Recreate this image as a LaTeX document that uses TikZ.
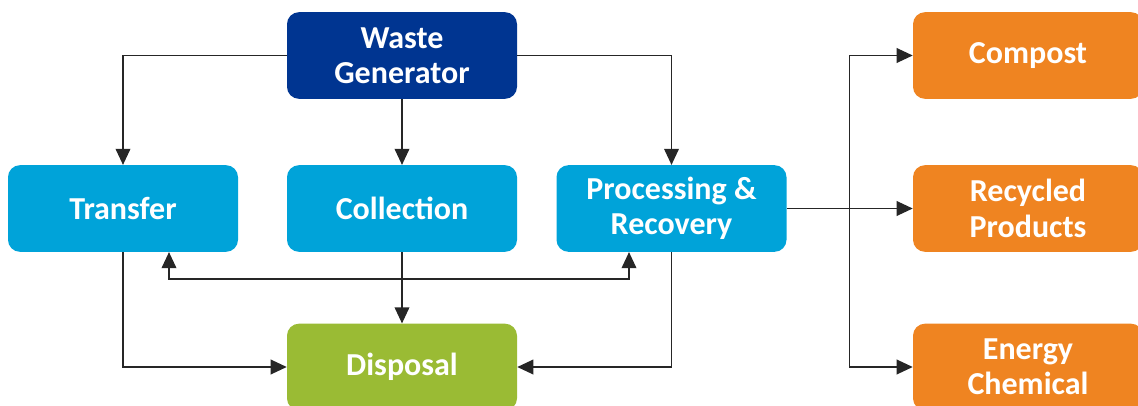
\documentclass[tikz,border=0pt]{standalone}
\usepackage{fontspec}
\setmainfont{Carlito}
\usetikzlibrary{arrows.meta, calc}

\definecolor{genblue}{HTML}{003591}
\definecolor{stepblue}{HTML}{00A3D9}
\definecolor{dispgreen}{HTML}{9ABB34}
\definecolor{prodorange}{HTML}{EF8421}

\begin{document}
\begin{tikzpicture}[x=0.75pt, y=-0.75pt, >={Triangle[length=12pt,width=11pt]},
  box/.style={rounded corners=9pt, minimum width=172.5pt, minimum height=65pt,
    inner sep=0pt, align=center, text=white,
    font=\fontsize{24}{26.5}\selectfont\bfseries},
  flow/.style={draw=black!85, line width=1pt}]
\useasboundingbox (0,0) rectangle (1138,406);
% Source and the three handling stages
\node [box, fill=genblue] (gen) at (402,55.5) {Waste\\Generator};
\node [box, fill=stepblue] (transfer) at (123,208.5) {Transfer};
\node [box, fill=stepblue] (collect) at (402,208.5) {Collection};
\node [box, fill=stepblue] (process) at (671.5,208.5) {Processing \&\\Recovery};
\node [box, fill=dispgreen] (dispose) at (402,367) {Disposal};
% Products on the right
\foreach \name/\y/\lab in {compost/55.5/Compost,
  recycled/208.5/{Recycled\\Products},
  energy/367/{Energy\\Chemical}} {
  \node [box, fill=prodorange] (\name) at (1028,\y) {\lab};
}
% Arrows out of the generator
\draw [flow, ->] (gen.west) -| (transfer.north);
\draw [flow, ->] (gen.south) -- (collect.north);
\draw [flow, ->] (gen.east) -| (process.north);
% Arrows into disposal
\draw [flow, ->] (transfer.south) |- (dispose.west);
\draw [flow, ->] (collect.south) -- (dispose.north);
\draw [flow, ->] (process.south) |- (dispose.east);
% Two-way link between transfer and processing
\coordinate (tlink) at ($(transfer.south)+(46,0)$);
\coordinate (plink) at ($(process.south)+(-42.5,0)$);
\draw [flow, <->] (tlink) -- ($(tlink)+(0,27)$) -| (plink);
% Branches to the products
\coordinate (hub) at ($(process.east)!0.5!(recycled.west)$);
\draw [flow, ->] (process.east) -- (recycled.west);
\draw [flow, ->] (hub) |- (compost.west);
\draw [flow, ->] (hub) |- (energy.west);
\end{tikzpicture}
\end{document}
